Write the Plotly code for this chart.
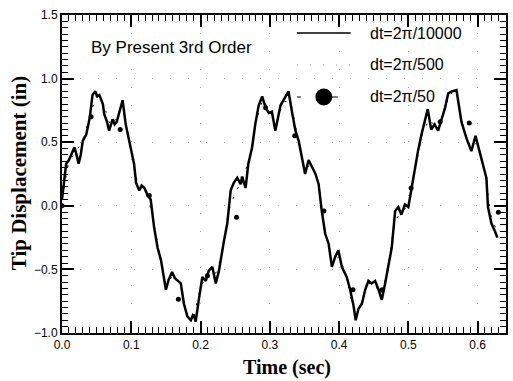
import plotly.graph_objects as go

# Solid: dt = 2pi/10000
t_fine = [0.000, 0.003, 0.006, 0.010, 0.0156, 0.018, 0.021, 0.024, 0.027, 0.030, 0.035, 0.040,
          0.044, 0.048, 0.051, 0.054, 0.059, 0.061, 0.065, 0.068, 0.073, 0.076, 0.079, 0.082,
          0.0875, 0.092, 0.0995, 0.104, 0.107, 0.1115, 0.115, 0.119, 0.123, 0.128, 0.133, 0.138,
          0.143, 0.146, 0.150, 0.154, 0.159, 0.163, 0.167, 0.1715, 0.176, 0.181, 0.186, 0.189,
          0.191, 0.193, 0.198, 0.2026, 0.2075, 0.212, 0.217, 0.222, 0.2266, 0.231, 0.234, 0.2386,
          0.241, 0.2435, 0.248, 0.253, 0.258, 0.260, 0.265, 0.269, 0.2745, 0.279, 0.284, 0.289,
          0.294, 0.2986, 0.303, 0.308, 0.3155, 0.320, 0.3226, 0.327, 0.332, 0.337, 0.3417, 0.3465,
          0.351, 0.356, 0.361, 0.366, 0.3705, 0.375, 0.380, 0.385, 0.3896, 0.3945, 0.399, 0.404,
          0.411, 0.416, 0.421, 0.424, 0.428, 0.433, 0.4377, 0.4424, 0.447, 0.452, 0.457, 0.4616,
          0.4665, 0.471, 0.476, 0.481, 0.4856, 0.490, 0.495, 0.500, 0.5047, 0.5096, 0.514, 0.519,
          0.524, 0.528, 0.533, 0.538, 0.543, 0.548, 0.553, 0.5576, 0.563, 0.5695, 0.573, 0.5767,
          0.584, 0.591, 0.597, 0.603, 0.608, 0.6127, 0.615, 0.620, 0.625, 0.6285]
v_fine = [0.05, 0.20, 0.33, 0.36, 0.44, 0.46, 0.40, 0.33, 0.40, 0.51, 0.56, 0.69,
          0.87, 0.90, 0.86, 0.87, 0.80, 0.72, 0.66, 0.59, 0.68, 0.64, 0.66, 0.72,
          0.83, 0.64, 0.44, 0.33, 0.18, 0.12, 0.16, 0.14, 0.09, 0.05, -0.17, -0.33,
          -0.43, -0.52, -0.66, -0.58, -0.52, -0.57, -0.59, -0.61, -0.77, -0.87, -0.90, -0.86,
          -0.87, -0.91, -0.72, -0.56, -0.59, -0.51, -0.48, -0.61, -0.51, -0.35, -0.27, -0.14,
          -0.01, 0.12, 0.18, 0.22, 0.17, 0.23, 0.14, 0.33, 0.46, 0.64, 0.79, 0.86,
          0.77, 0.73, 0.74, 0.59, 0.79, 0.83, 0.85, 0.90, 0.74, 0.59, 0.51, 0.38,
          0.25, 0.36, 0.31, 0.25, 0.17, -0.04, -0.22, -0.30, -0.48, -0.40, -0.35, -0.48,
          -0.56, -0.66, -0.79, -0.90, -0.81, -0.77, -0.66, -0.59, -0.61, -0.59, -0.66, -0.74,
          -0.61, -0.48, -0.33, -0.04, -0.01, -0.07, 0.01, -0.01, 0.14, 0.30, 0.43, 0.56,
          0.66, 0.76, 0.60, 0.64, 0.59, 0.69, 0.77, 0.885, 0.90, 0.91, 0.79, 0.66,
          0.53, 0.43, 0.55, 0.43, 0.33, 0.22, -0.01, -0.14, -0.20, -0.25]

# Dashed: dt = 2pi/500
t_mid = [0.00, 0.01, 0.02, 0.03, 0.04, 0.05, 0.06, 0.07, 0.08, 0.09, 0.10, 0.11, 0.12, 0.13,
         0.14, 0.15, 0.16, 0.17, 0.18, 0.19, 0.20, 0.21, 0.22, 0.23, 0.24, 0.25, 0.26, 0.27,
         0.28, 0.29, 0.30, 0.31, 0.32, 0.33, 0.34, 0.35, 0.36, 0.37, 0.38, 0.39, 0.40, 0.41,
         0.42, 0.43, 0.44, 0.45, 0.46, 0.47, 0.48, 0.49, 0.50, 0.51, 0.52, 0.53, 0.54, 0.55,
         0.56, 0.57, 0.58, 0.59, 0.60, 0.61, 0.62, 0.63]
v_mid = [0.05, 0.36, 0.42, 0.52, 0.70, 0.88, 0.80, 0.63, 0.70, 0.72, 0.42, 0.15, 0.12, -0.05,
         -0.36, -0.62, -0.55, -0.60, -0.84, -0.88, -0.64, -0.54, -0.56, -0.40, -0.05, 0.10, 0.20, 0.36,
         0.66, 0.84, 0.74, 0.66, 0.82, 0.82, 0.55, 0.30, 0.32, 0.19, -0.20, -0.44, -0.40, -0.54,
         -0.80, -0.80, -0.62, -0.60, -0.70, -0.52, -0.12, -0.05, 0.00, 0.30, 0.56, 0.68, 0.62, 0.72,
         0.89, 0.86, 0.60, 0.46, 0.50, 0.28, -0.10, -0.22]

# Dots: dt = 2pi/50
t_coarse = [0.000, 0.042, 0.084, 0.126, 0.168, 0.210, 0.252, 0.294, 0.336, 0.378, 0.420,
            0.462, 0.504, 0.546, 0.588, 0.630]
v_coarse = [0.00, 0.70, 0.60, 0.08, -0.735, -0.55, -0.09, 0.77, 0.55, -0.04, -0.66,
            -0.66, 0.14, 0.66, 0.65, -0.05]

x_ticks = [0.0, 0.1, 0.2, 0.3, 0.4, 0.5, 0.6]
y_ticks = [-1.0, -0.5, 0.0, 0.5, 1.0, 1.5]
legend_names = ["dt=2\u03c0/10000", "dt=2\u03c0/500", "dt=2\u03c0/50"]

fig = go.Figure()
fig.add_trace(go.Scatter(x=t_mid, y=v_mid, mode="lines",
                         line=dict(color="black", width=1, dash="2px,9px"), showlegend=False))
fig.add_trace(go.Scatter(x=t_fine, y=v_fine, mode="lines",
                         line=dict(color="black", width=2.5), showlegend=False))
fig.add_trace(go.Scatter(x=t_coarse, y=v_coarse, mode="markers",
                         marker=dict(color="black", size=5), showlegend=False))

W, H = 513, 381
L, R, T, B = 62, 5, 15, 48
pw, ph = W - L - R, H - T - B

def px(x):
    return (x - L) / pw

def py(y):
    return 1 - (y - T) / ph

shapes = []
shapes.append(dict(type="line", xref="paper", yref="paper", x0=px(298), x1=px(352), y0=py(33), y1=py(33),
                   line=dict(color="black", width=1.5)))
shapes.append(dict(type="line", xref="paper", yref="paper", x0=px(298), x1=px(352), y0=py(65), y1=py(65),
                   line=dict(color="#999", width=1, dash="1px,12px")))
shapes.append(dict(type="line", xref="paper", yref="paper", x0=px(298), x1=px(302), y0=py(97), y1=py(97),
                   line=dict(color="black", width=1)))
shapes.append(dict(type="line", xref="paper", yref="paper", x0=px(333), x1=px(339), y0=py(97), y1=py(97),
                   line=dict(color="black", width=1)))
r = 8.5
shapes.append(dict(type="circle", xref="paper", yref="paper", x0=px(325 - r), x1=px(325 + r),
                   y0=py(97 + r), y1=py(97 - r), fillcolor="black", line=dict(color="black", width=0)))

annotations = []
for name, yy in zip(legend_names, [33, 65, 97]):
    annotations.append(dict(text=name, xref="paper", yref="paper", x=px(369), y=py(yy),
                            xanchor="left", yanchor="middle", showarrow=False,
                            font=dict(family="Liberation Sans, Arial", size=16, color="black")))
annotations.append(dict(text="By Present 3rd Order", xref="paper", yref="paper", x=px(89), y=py(48),
                        xanchor="left", yanchor="middle", showarrow=False,
                        font=dict(family="Liberation Sans, Arial", size=17, color="black")))
annotations.append(dict(text="<b>Time (sec)</b>", xref="paper", yref="paper", x=px(288), y=py(367),
                        xanchor="center", yanchor="middle", showarrow=False,
                        font=dict(family="Liberation Serif, Times New Roman", size=20, color="black")))
annotations.append(dict(text="<b>Tip Displacement (in)</b>", xref="paper", yref="paper", x=px(19), y=py(173),
                        xanchor="center", yanchor="middle", showarrow=False, textangle=-90,
                        font=dict(family="Liberation Serif, Times New Roman", size=21, color="black")))

axis_common = dict(showline=True, linecolor="black", linewidth=2, mirror="ticks",
                   ticks="inside", ticklen=12, tickwidth=1.5, tickcolor="black",
                   showgrid=True, gridcolor="#aaa", gridwidth=1, griddash="1px,17px",
                   zeroline=False, tickfont=dict(family="Liberation Sans, Arial", size=12, color="black"),
                   tickformat=".1f")

fig.update_layout(
    width=W, height=H, margin=dict(l=L, r=R, t=T, b=B),
    paper_bgcolor="white", plot_bgcolor="white",
    showlegend=False, shapes=shapes, annotations=annotations,
    xaxis=dict(range=[0, 0.641], tickvals=x_ticks,
               minor=dict(dtick=0.01, tick0=0, ticklen=6, tickwidth=1, tickcolor="black", ticks="inside"),
               **axis_common),
    yaxis=dict(range=[-1.0, 1.5], tickvals=y_ticks,
               minor=dict(dtick=0.05, tick0=0, ticklen=6, tickwidth=1, tickcolor="black", ticks="inside"),
               **axis_common),
)

fig.write_html("out.html")
